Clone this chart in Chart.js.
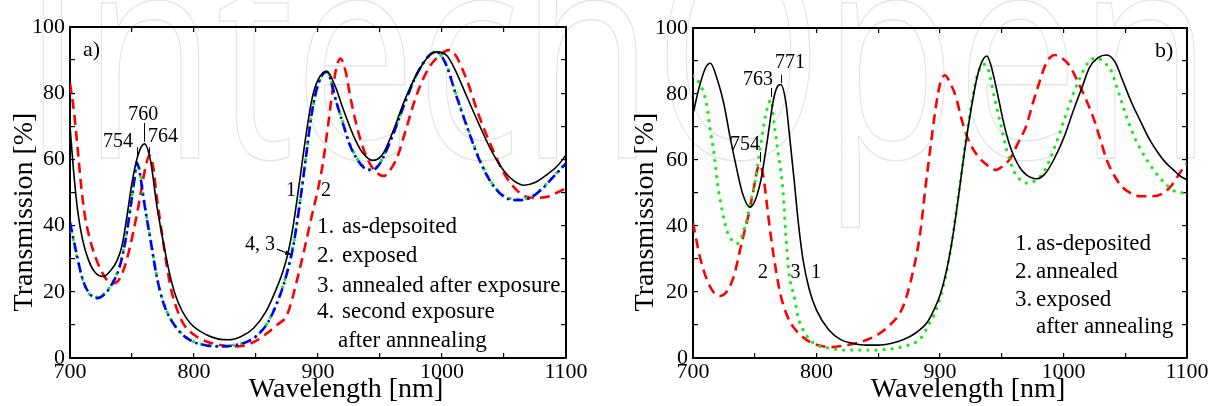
<!DOCTYPE html>
<html>
<head>
<meta charset="utf-8">
<title>Transmission spectra</title>
<script src="https://cdn.jsdelivr.net/npm/chart.js@4.4.0/dist/chart.umd.min.js"></script>
<style>
  html, body { margin: 0; padding: 0; background: #fff; }
  #wrap { position: relative; width: 1216px; height: 406px; overflow: hidden; }
  .panel { position: absolute; top: 0; width: 608px; height: 406px; }
  #mark { position: absolute; left: 0; top: 0; }
</style>
</head>
<body>
<div id="wrap">
  <svg id="mark" width="1216" height="406">
    <text x="22" y="158" font-family="Open Sans" font-size="290" textLength="1190"
          lengthAdjust="spacingAndGlyphs" fill="none" stroke="#e4e4e4" stroke-width="1.5">IntechOpen</text>
  </svg>
  <div class="panel" style="left:0"><canvas id="chartA"></canvas></div>
  <div class="panel" style="left:608px"><canvas id="chartB"></canvas></div>
</div>
<script>
// ---- panel a) ----
// 1. as-deposited
const aDepWl = [700, 703, 706, 710, 715, 720, 727, 733, 738, 742, 746, 750, 755, 760, 765, 770, 775, 780, 785, 790,
  797, 810, 820, 828, 838, 848, 858, 866, 872, 876, 880, 885, 890, 895, 900, 907, 914, 920, 925, 930,
  936, 944, 952, 960, 970, 980, 990, 996, 1004, 1010, 1020, 1030, 1040, 1050, 1058, 1066, 1075, 1085, 1093, 1100];
const aDepT = [70, 56, 45, 36, 29.5, 26, 24.6, 26.5, 29.5, 34, 43, 53, 61.5, 64.7, 59.5, 46, 35.5, 26, 19, 14.5,
  10.5, 7, 5.7, 5.5, 6.5, 9, 14, 20.5, 26.5, 32, 40, 53, 66.5, 78, 84, 86.6, 82, 75.5, 70.5, 66,
  62, 59.7, 61.5, 68, 78, 86, 91.5, 92.5, 91.3, 87.5, 79, 70.5, 62.5, 56.5, 53.5, 52.2, 53, 55.5, 58, 61.3];
// 2. exposed
const aExpWl = [700, 703, 706, 709, 712, 716, 720, 725, 730, 734, 738, 742, 746, 751, 756, 760, 764, 767, 770, 774,
  778, 782, 787, 792, 800, 810, 820, 830, 840, 850, 860, 867, 875, 880, 885, 890, 895, 900, 904, 908,
  912, 915, 918, 922, 926, 930, 935, 940, 946, 953, 960, 965, 970, 980, 990, 1000, 1005, 1010, 1020, 1030,
  1040, 1050, 1060, 1068, 1076, 1085, 1093, 1100];
const aExpT = [83, 75, 64, 52, 43, 36, 31, 26.5, 23.5, 22.6, 23, 25.5, 30, 38, 47.5, 56, 61.2, 58, 48.5, 38,
  28, 20, 14, 10, 7, 5, 4, 3.5, 3.7, 5.2, 7.8, 10, 13, 19, 26.5, 34.5, 43, 51, 59, 70,
  81.5, 88, 90.5, 87, 79, 72, 65, 60, 56.5, 55, 57.8, 61.8, 67.9, 80, 88, 92, 93, 92, 84, 73,
  63.8, 55.8, 50.8, 48.7, 48.4, 48.7, 50, 51.3];
// 3. annealed after exposure / 4. second exposure (same wavelengths)
const aLateWl = [700, 705, 710, 715, 722, 728, 733, 740, 745, 749, 752, 754, 756.5, 759, 762, 765, 770, 775, 780, 790,
  800, 810, 820, 830, 840, 850, 860, 870, 875, 880, 885, 890, 895, 900, 907, 915, 920, 925, 930, 937,
  944, 950, 960, 970, 980, 990, 995, 1000, 1005, 1010, 1020, 1030, 1040, 1050, 1060, 1070, 1080, 1090, 1100];
const aAnnT = [40.5, 31.5, 24, 19.6, 18.4, 19.5, 22, 27.8, 36.3, 46.3, 54.3, 59.2, 55.8, 49.3, 42.3, 35.8, 24.8, 17.2, 12.6, 7.4,
  4.9, 3.9, 3.6, 3.8, 4.6, 6.6, 11.2, 19.8, 26, 34, 46, 60, 74, 82.5, 86.6, 77.3, 71.3, 65.3, 61.3, 57.8,
  57, 59, 67.2, 77.2, 86, 91.5, 92.5, 91, 87.2, 81.3, 70.3, 60.3, 53, 49, 48, 48.4, 51, 55, 59];
const aSecT = [41, 32, 24, 19.8, 18.1, 19.3, 21.8, 27.5, 36, 46, 54, 58.9, 55.5, 49, 42, 35.5, 24.5, 17, 12.5, 7.3,
  4.8, 3.8, 3.5, 3.7, 4.5, 6.5, 11, 19.6, 25.7, 33.7, 45.8, 59.9, 74, 82.5, 86.5, 77, 71, 65, 61, 57.5,
  56.8, 58.8, 67, 77, 86, 91.5, 92.5, 91, 87, 81, 70, 60, 52.8, 48.7, 47.7, 48.2, 50.8, 54.8, 58.8];

// ---- panel b) ----
// 1. as-deposited
const bDepWl = [700, 705, 710, 714, 720, 725, 730, 735, 740, 746, 750, 755, 760, 765, 768, 771, 775, 778, 782, 785,
  789, 794, 800, 810, 820, 830, 840, 850, 860, 870, 880, 890, 895, 900, 905, 910, 915, 920, 925, 930,
  934, 938, 941, 944, 948, 952, 956, 960, 965, 970, 978, 985, 992, 1000, 1008, 1015, 1021, 1028, 1035, 1042,
  1048, 1055, 1062, 1070, 1076, 1082, 1089, 1095, 1100];
const bDepT = [74, 82, 87.8, 89.3, 84, 77, 67, 58, 50, 45.7, 47.5, 54, 65.5, 78, 82, 82.9, 78, 68, 53.5, 42,
  30, 21, 14.5, 8.5, 5.5, 4.4, 3.9, 3.9, 4.4, 5.5, 7.5, 11, 14.5, 19, 26, 36, 49, 63, 75, 85,
  89.8, 91.5, 89, 84.5, 77.5, 70.5, 65, 61, 57.5, 55.5, 54.3, 55.8, 60, 66.5, 75, 82, 88, 91, 91.8, 89.5,
  84, 77.5, 72, 66, 62.5, 59.5, 57, 55, 54];
// 2. annealed
const bAnnWl = [700, 706, 714, 722, 732, 740, 745, 749, 752, 754, 757, 760, 763, 767, 771, 776, 781, 787, 795, 803,
  812, 823, 831, 844, 858, 870, 878, 884, 888, 892, 897, 900, 904, 908, 913, 917, 922, 930, 938, 945,
  952, 957, 963, 970, 975, 980, 985, 989, 993, 1000, 1005, 1010, 1016, 1024, 1030, 1035, 1040, 1046, 1052, 1062,
  1072, 1081, 1088, 1094, 1100];
const bAnnT = [41, 30, 21.5, 18.8, 23.6, 35.8, 43.5, 51, 57, 58.5, 55, 46, 37, 27, 19, 13, 9.5, 7, 4.8, 3.7,
  3.3, 3.8, 4.4, 6, 9.5, 15.5, 26, 38, 51, 63, 77, 83, 85.7, 83.5, 79, 73, 67, 61.5, 58.5, 57,
  58.5, 60.5, 65, 70.5, 77, 83, 88.5, 91, 91.8, 90.5, 88.5, 85, 80.2, 73, 66, 60, 56, 52.5, 50.5, 49,
  49, 50, 52.5, 56, 59];
// 3. exposed after annealing
const bExpWl = [700, 704, 707, 711, 714, 717, 720, 724, 728, 732, 736, 742, 747, 751, 755, 759, 763, 766, 768, 773,
  775, 778, 782, 785, 790, 798, 812, 823, 836, 847, 863, 875, 884, 890, 895, 900, 905, 910, 915, 920,
  925, 930, 935, 938, 944, 949, 954, 960, 965, 970, 978, 985, 993, 1000, 1008, 1014, 1020, 1027, 1033, 1038,
  1045, 1053, 1062, 1073, 1081, 1091, 1100];
const bExpT = [85.5, 84, 82, 77, 69, 62, 52.5, 44, 38, 35.5, 34.7, 39.8, 47.9, 55, 65, 74, 78.2, 70, 64.5, 50,
  38, 25, 18.5, 12.5, 8, 4.4, 2.9, 2.4, 2.4, 2.4, 2.9, 4, 5.8, 9.5, 13, 18, 25.5, 36, 49.5, 63.5,
  76, 85.5, 89, 88.5, 79, 71, 63, 56.5, 54, 53, 54, 57, 64, 71.5, 80.2, 85.5, 89.5, 91, 89.5, 87.5,
  80, 71, 63.5, 57, 53.4, 50.4, 50];

const wlTicks = [700, 800, 900, 1000, 1100];
const tTicks = [0, 20, 40, 60, 80, 100];

const SERIF = '"Liberation Serif", "DejaVu Serif", serif';
Chart.defaults.font.family = SERIF;
Chart.defaults.color = '#000';

const pairs = (xs, ys) => xs.map((x, i) => ({ x, y: ys[i] }));

const styles = {
  solid:  { borderColor: '#000', borderWidth: 1.6 },
  dashed: { borderColor: '#ff0000', borderWidth: 2.6, borderDash: [10, 6] },
  dashDot:{ borderColor: '#0000ff', borderWidth: 2.6, borderDash: [10, 4, 2.5, 4] },
  dotted: { borderColor: '#11ee11', borderWidth: 3.2, borderDash: [0.1, 8], borderCapStyle: 'round' }
};

function series(label, xs, ys, style) {
  return Object.assign({
    label, data: pairs(xs, ys), pointRadius: 0, fill: false,
    cubicInterpolationMode: 'monotone'
  }, styles[style]);
}

function frameScales(yWidth) {
  const tickGrid = { drawOnChartArea: false, drawTicks: true, tickLength: -5, color: '#000', lineWidth: 1.2 };
  const edge = { display: true, color: '#000', width: 2 };
  const tickFont = { family: SERIF, size: 22 };
  return {
    x: {
      type: 'linear', position: 'bottom', min: 700, max: 1100,
      grid: tickGrid, border: edge,
      ticks: { stepSize: 50, autoSkip: false, maxRotation: 0, padding: 6, font: tickFont,
        callback: v => wlTicks.includes(v) ? String(v) : '' },
      afterFit: s => { s.height = 48; }
    },
    y: {
      type: 'linear', position: 'left', min: 0, max: 100,
      grid: tickGrid, border: edge,
      ticks: { stepSize: 10, autoSkip: false, padding: 10, font: tickFont,
        callback: v => tTicks.includes(v) ? String(v) : '' },
      afterFit: s => { s.width = yWidth; }
    },
    x2: {
      type: 'linear', position: 'top', min: 700, max: 1100,
      grid: tickGrid, border: edge,
      ticks: { stepSize: 50, display: false },
      afterFit: s => { s.height = 0; }
    },
    y2: {
      type: 'linear', position: 'right', min: 0, max: 100,
      grid: tickGrid, border: edge,
      ticks: { stepSize: 10, display: false },
      afterFit: s => { s.width = 0; }
    }
  };
}

// text drawn inside each panel: titles, peak markers, curve numbers, legend
const notes = {
  chartA: {
    yTitle: [32, 212], xTitle: [346, 397],
    tag: { text: 'a)', wl: 710.5, t: 91.2 },
    peaks: [
      { text: '760', wl: 760, t0: 65.3, t1: 71, tx: 759, ty: 71.9, align: 'center' },
      { text: '754', wl: 754, t0: 60.7, t1: 63.7, tx: 750.8, ty: 63.7, align: 'right' },
      { text: '764', wl: 764, t0: 61.3, t1: 63.7, tx: 762.9, ty: 65.3, align: 'left' }
    ],
    marks: [
      { text: '1', wl: 878.2, t: 50.5, align: 'center' },
      { text: '2', wl: 906.5, t: 50.5, align: 'center' },
      { text: '4, 3', wl: 865.3, t: 34.1, align: 'right' }
    ],
    arrow: [866.9, 32.9, 878.8, 31.1],
    legend: {
      numX: 247, textX: 272,
      rows: [[206, '1.', 'as-depsoited'], [235, '2.', 'exposed'], [265, '3.', 'annealed after exposure'],
             [291, '4.', 'second exposure'], [320, '', 'after annnealing', 268]]
    }
  },
  chartB: {
    yTitle: [45, 212], xTitle: [360, 397],
    tag: { text: 'b)', wl: 1074, t: 91.3 },
    peaks: [
      { text: '771', wl: 771, t0: 83.3, t1: 85.8, tx: 766.4, ty: 87.9, align: 'left' },
      { text: '763', wl: 763, t0: 79.1, t1: 81.8, tx: 764.8, ty: 82.7, align: 'right' },
      { text: '754', wl: 754, t0: 59.4, t1: 62.4, tx: 754.3, ty: 63, align: 'right' }
    ],
    marks: [
      { text: '2', wl: 756.7, t: 25.8, align: 'center' },
      { text: '3', wl: 783, t: 25.8, align: 'center' },
      { text: '1', wl: 799.6, t: 25.8, align: 'center' }
    ],
    arrow: null,
    legend: {
      numX: 322, textX: 343,
      rows: [[222, '1.', 'as-deposited'], [250, '2.', 'annealed'], [278, '3.', 'exposed'],
             [305, '', 'after annealing', 343]]
    }
  }
};

const panelText = {
  id: 'panelText',
  afterDraw(chart) {
    const n = notes[chart.canvas.id];
    const { ctx, chartArea: ca } = chart;
    const px = v => chart.scales.x.getPixelForValue(v);
    const py = v => chart.scales.y.getPixelForValue(v);
    ctx.save();
    ctx.fillStyle = '#000';
    ctx.strokeStyle = '#000';

    // axis titles
    ctx.font = '28px ' + SERIF;
    ctx.textAlign = 'center';
    ctx.textBaseline = 'alphabetic';
    ctx.fillText('Wavelength [nm]', n.xTitle[0], n.xTitle[1]);
    ctx.save();
    ctx.translate(n.yTitle[0], n.yTitle[1]);
    ctx.rotate(-Math.PI / 2);
    ctx.fillText('Transmission [%]', 0, 0);
    ctx.restore();

    // panel tag
    ctx.font = '22px ' + SERIF;
    ctx.textAlign = 'left';
    ctx.fillText(n.tag.text, px(n.tag.wl), py(n.tag.t));

    // peak wavelengths with short marker lines
    ctx.font = '20px ' + SERIF;
    ctx.lineWidth = 1;
    n.peaks.forEach(p => {
      ctx.beginPath();
      ctx.moveTo(Math.round(px(p.wl)) + 0.5, py(p.t0));
      ctx.lineTo(Math.round(px(p.wl)) + 0.5, py(p.t1));
      ctx.stroke();
      ctx.textAlign = p.align;
      ctx.fillText(p.text, px(p.tx), py(p.ty));
    });

    // curve numbers
    ctx.textBaseline = 'middle';
    n.marks.forEach(m => {
      ctx.textAlign = m.align;
      ctx.fillText(m.text, px(m.wl), py(m.t));
    });

    // pointer from "4, 3" to the curves
    if (n.arrow) {
      const [x0, y0, x1, y1] = [px(n.arrow[0]), py(n.arrow[1]), px(n.arrow[2]), py(n.arrow[3])];
      const a = Math.atan2(y1 - y0, x1 - x0);
      ctx.lineWidth = 1.2;
      ctx.beginPath();
      ctx.moveTo(x0, y0);
      ctx.lineTo(x1 - 4 * Math.cos(a), y1 - 4 * Math.sin(a));
      ctx.stroke();
      ctx.beginPath();
      ctx.moveTo(x1, y1);
      ctx.lineTo(x1 - 7 * Math.cos(a - 0.35), y1 - 7 * Math.sin(a - 0.35));
      ctx.lineTo(x1 - 7 * Math.cos(a + 0.35), y1 - 7 * Math.sin(a + 0.35));
      ctx.closePath();
      ctx.fill();
    }

    // legend text
    ctx.font = '23px ' + SERIF;
    ctx.textAlign = 'left';
    ctx.textBaseline = 'alphabetic';
    n.legend.rows.forEach(r => {
      const y = ca.top + r[0];
      if (r[1]) ctx.fillText(r[1], ca.left + n.legend.numX, y);
      ctx.fillText(r[2], ca.left + (r[3] !== undefined ? r[3] : n.legend.textX), y);
    });
    ctx.restore();
  }
};

function makeChart(id, datasets, pad, yWidth) {
  return new Chart(document.getElementById(id), {
    type: 'line',
    data: { datasets },
    options: {
      responsive: true,
      maintainAspectRatio: false,
      animation: false,
      devicePixelRatio: 1,
      layout: { padding: pad },
      plugins: { legend: { display: false }, tooltip: { enabled: false } },
      scales: frameScales(yWidth)
    },
    plugins: [panelText]
  });
}

makeChart('chartA', [
  series('as-depsoited', aDepWl, aDepT, 'solid'),
  series('second exposure after annnealing', aLateWl, aSecT, 'dashDot'),
  series('annealed after exposure', aLateWl, aAnnT, 'dotted'),
  series('exposed', aExpWl, aExpT, 'dashed')
], { left: 0, top: 27, right: 42, bottom: 0 }, 70);

makeChart('chartB', [
  series('as-deposited', bDepWl, bDepT, 'solid'),
  series('exposed after annealing', bExpWl, bExpT, 'dotted'),
  series('annealed', bAnnWl, bAnnT, 'dashed')
], { left: 0, top: 28, right: 29, bottom: 0 }, 85);
</script>
</body>
</html>
